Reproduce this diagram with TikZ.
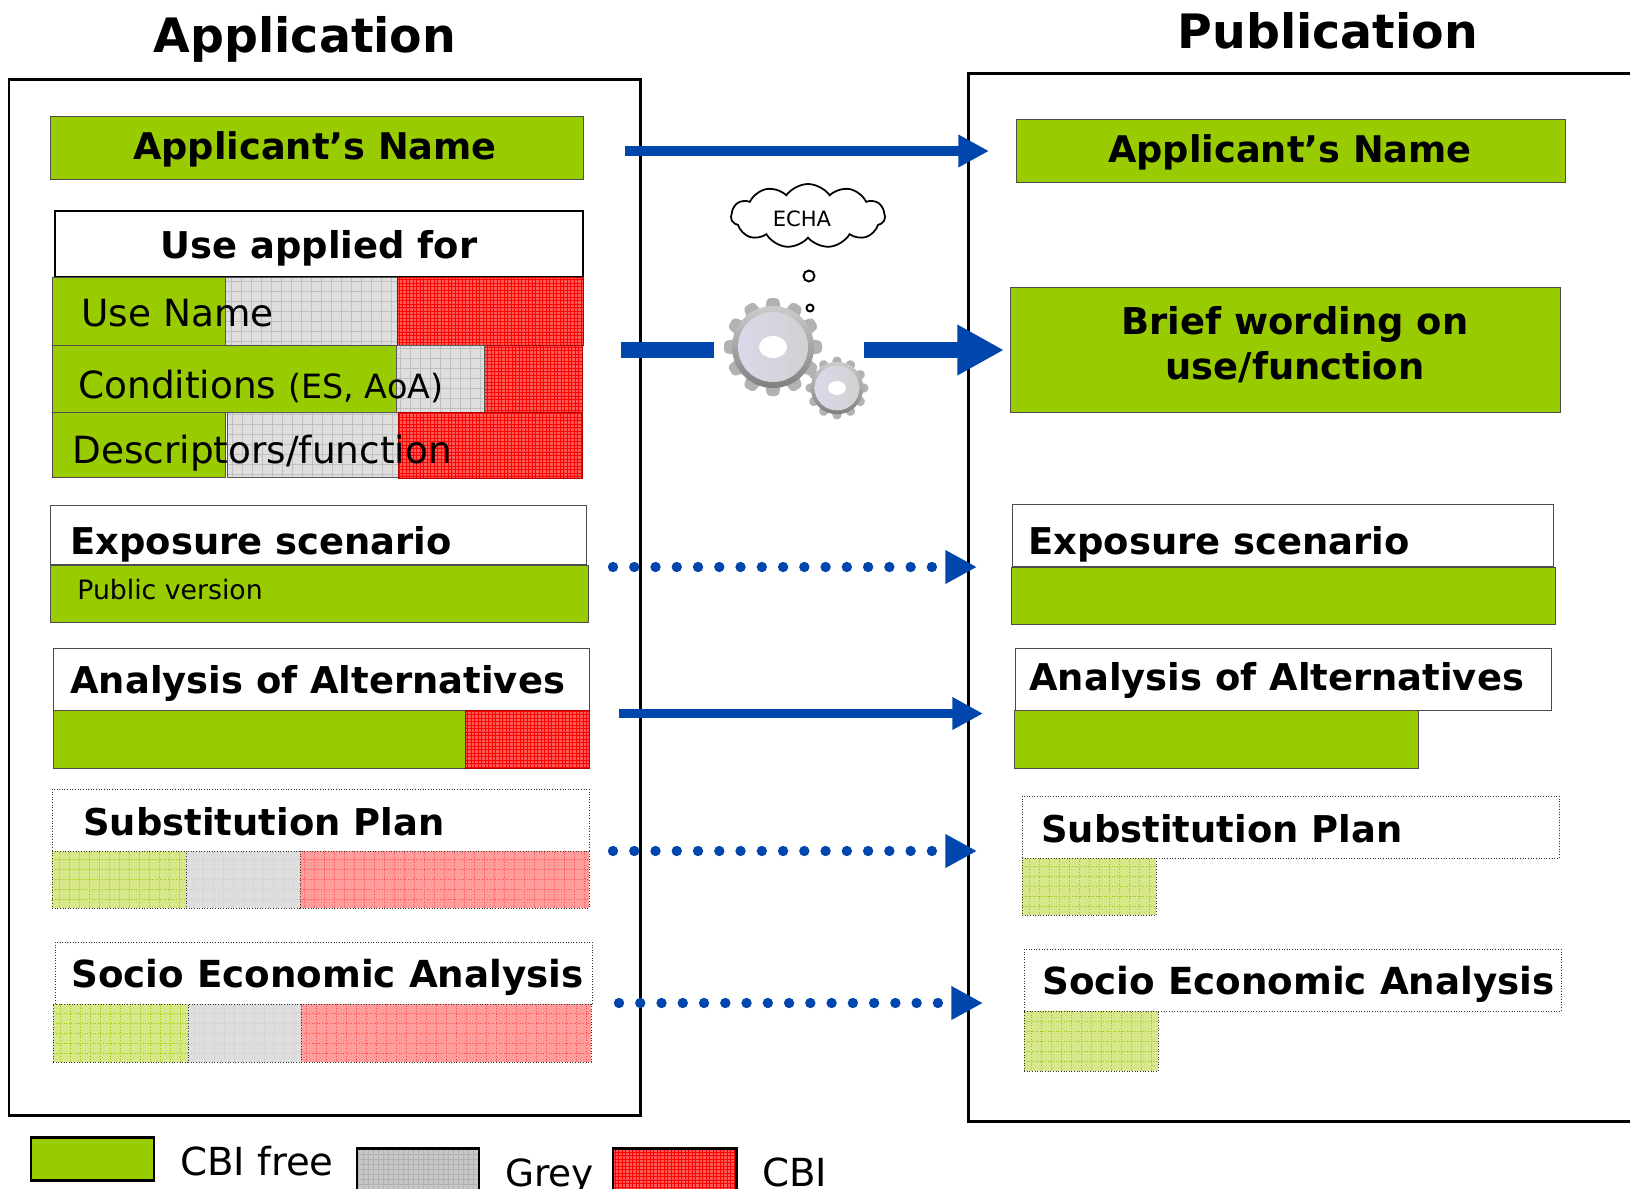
\documentclass[tikz,border=0pt]{standalone}
\usepackage{fontspec}
\setmainfont{DejaVu Sans}
\usepackage{xcolor}
\usepackage{tikz}
\usetikzlibrary{arrows.meta,shapes.symbols}
\definecolor{cbifree}{HTML}{99CC00}
\definecolor{cbifreepale}{HTML}{D6E88A}
\definecolor{cbigrey}{HTML}{DEDEDE}
\definecolor{cbired}{HTML}{FF5A5A}
\definecolor{cbiredpale}{HTML}{FF9C9C}
\definecolor{flowblue}{HTML}{0046AD}

\begin{document}
\begin{tikzpicture}[
        x=0.02cm, y=-0.02cm,
        sized/.style 2 args={
            anchor=north west,
            minimum width=#1*0.02cm,
            minimum height=#2*0.02cm,
            inner sep=0pt,
            outer sep=0pt
        },
        hatched/.style 2 args={
            path picture={
                \draw[#1, line width=0.5pt]
                    (path picture bounding box.south west) grid[step=#2]
                    (path picture bounding box.north east);
            }
        },
        greenbar/.style={draw=black!70, line width=0.4pt, fill=cbifree},
        greybar/.style={draw=black!65, line width=0.5pt, fill=cbigrey, hatched={black!25}{0.2cm}},
        redbar/.style={draw=red!70!black, line width=0.4pt, fill=cbired, hatched={red}{0.07cm}},
        palegreen/.style={draw=black!80, densely dotted, line width=0.5pt, fill=cbifreepale, hatched={cbifree}{0.2cm}},
        palegrey/.style={draw=black!80, densely dotted, line width=0.5pt, fill=cbigrey, hatched={black!20}{0.2cm}},
        palered/.style={draw=black!80, densely dotted, line width=0.5pt, fill=cbiredpale, hatched={red!70}{0.2cm}},
        whitebox/.style={draw=black!70, line width=0.4pt, fill=white},
        dotbox/.style={draw=black!80, densely dotted, line width=0.5pt, fill=white},
        panel/.style={draw=black, line width=1.7pt},
        heading/.style={font=\fontsize{27}{32}\selectfont\bfseries, anchor=base, inner sep=0pt},
        boxtitle/.style={font=\fontsize{21}{25}\selectfont\bfseries, anchor=base west, inner sep=0pt},
        rowtext/.style={font=\fontsize{21.3}{25}\selectfont, anchor=base west, inner sep=0pt},
        solidflow/.style={draw=flowblue, line width=5.4pt, -{Triangle[length=17.5pt,width=17.5pt]}},
        dottedflow/.style={draw=flowblue, line width=5.9pt, line cap=round, dash pattern=on 0pt off 12.1pt,
            -{Triangle[length=18pt,width=18pt]}},
        wideflow/.style={draw=flowblue, line width=9pt},
        gearwheel/.pic={
            \foreach \toothangle in {0,30,...,330}
                \fill[rotate=\toothangle, rounded corners=2pt, black!30] (-9,30) -- (-6,49) -- (6,49) -- (9,30) -- cycle;
            \shade[top color=black!20, bottom color=black!50] (0,0) circle (41);
            \shade[shading angle=135, left color=black!55!blue!15!white, right color=black!18] (0,0) circle (35);
            \fill[white] (0,0) ellipse (14 and 11);
        }
    ]
    \useasboundingbox (0,0) rectangle (1630,1188);

    % headings
    \node[heading] (apphead) at (305,52) {Application};
    \node[heading] (pubhead) at (1328,48) {Publication};

    % panels
    \node[panel, sized={631}{1036}] (apppanel) at (9,79) {};
    \draw[panel] (1640,73) -- (968,73) -- (968,1121) -- (1640,1121);

    % Application: name and use
    \node[greenbar, sized={533}{63}] (appname) at (50,116) {};
    \node[boxtitle, anchor=base, font=\fontsize{20.9}{25}\selectfont\bfseries] (appnametext) at (315,159) {Applicant’s Name};
    \node[draw=black, line width=1.2pt, fill=white, sized={528}{66}] (usebox) at (55,211) {};
    \node[boxtitle, anchor=base] (usetitle) at (319,258) {Use applied for};

    \node[greenbar, sized={173}{68}] (usegreen) at (52,277) {};
    \node[greybar, sized={172}{68}] (usegrey) at (225,277) {};
    \node[redbar, sized={186}{68}] (usered) at (397,277) {};
    \node[greenbar, sized={344}{67}] (condgreen) at (52,345) {};
    \node[redbar, sized={98}{67}] (condred) at (484,345) {};
    \node[greybar, sized={88}{67}] (condgrey) at (396,345) {};
    \node[greenbar, sized={173}{65}] (descgreen) at (52,412) {};
    \node[greybar, sized={171}{65}] (descgrey) at (227,412) {};
    \node[redbar, sized={184}{66}] (descred) at (398,412) {};
    \node[rowtext] (usetext) at (81,326) {Use Name};
    \node[rowtext] (condtext) at (78,398) {Conditions {\fontsize{19}{22}\selectfont (ES, AoA)}};
    \node[rowtext] (desctext) at (72,463) {Descriptors/function};

    % Application: exposure scenario
    \node[whitebox, sized={536}{59}] (appexpo) at (50,505) {};
    \node[greenbar, sized={538}{57}] (appexpobar) at (50,565) {};
    \node[boxtitle] (appexpotext) at (70,554) {Exposure scenario};
    \node[rowtext, font=\fontsize{15.2}{18}\selectfont] (publictext) at (77,599) {Public version};

    % Application: analysis of alternatives
    \node[whitebox, sized={536}{62}] (appaoa) at (53,648) {};
    \node[greenbar, sized={412}{58}] (appaoagreen) at (53,710) {};
    \node[redbar, sized={124}{58}] (appaoared) at (465,710) {};
    \node[boxtitle] (appaoatext) at (70,693) {Analysis of Alternatives};

    % Application: substitution plan
    \node[dotbox, sized={537}{62}] (appsub) at (52,789) {};
    \node[palegreen, sized={134}{57}] (appsubgreen) at (52,851) {};
    \node[palegrey, sized={114}{57}] (appsubgrey) at (186,851) {};
    \node[palered, sized={289}{57}] (appsubred) at (300,851) {};
    \node[boxtitle] (appsubtext) at (83,835) {Substitution Plan};

    % Application: socio economic analysis
    \node[dotbox, sized={537}{62}] (appsea) at (55,942) {};
    \node[palegreen, sized={135}{58}] (appseagreen) at (53,1004) {};
    \node[palegrey, sized={113}{58}] (appseagrey) at (188,1004) {};
    \node[palered, sized={290}{58}] (appseared) at (301,1004) {};
    \node[boxtitle, font=\fontsize{21.2}{25}\selectfont\bfseries] (appseatext) at (71,987) {Socio Economic Analysis};

    % Publication
    \node[greenbar, sized={549}{63}] (pubname) at (1016,119) {};
    \node[boxtitle, anchor=base, font=\fontsize{20.9}{25}\selectfont\bfseries] (pubnametext) at (1290,162) {Applicant’s Name};
    \node[greenbar, sized={550}{125}] (pubbrief) at (1010,287) {};
    \node[boxtitle, anchor=base] (brieftext) at (1295,334) {Brief wording on};
    \node[boxtitle, anchor=base] (brieftextb) at (1295,379) {use/function};

    \node[whitebox, sized={541}{62}] (pubexpo) at (1012,504) {};
    \node[greenbar, sized={544}{57}] (pubexpobar) at (1011,567) {};
    \node[boxtitle] (pubexpotext) at (1028,554) {Exposure scenario};

    \node[whitebox, sized={536}{62}] (pubaoa) at (1015,648) {};
    \node[greenbar, sized={404}{58}] (pubaoagreen) at (1014,710) {};
    \node[boxtitle] (pubaoatext) at (1029,690) {Analysis of Alternatives};

    \node[dotbox, sized={537}{62}] (pubsub) at (1022,796) {};
    \node[palegreen, sized={134}{57}] (pubsubgreen) at (1022,858) {};
    \node[boxtitle] (pubsubtext) at (1041,842) {Substitution Plan};

    \node[dotbox, sized={537}{62}] (pubsea) at (1024,949) {};
    \node[palegreen, sized={134}{60}] (pubseagreen) at (1024,1011) {};
    \node[boxtitle, font=\fontsize{21.2}{25}\selectfont\bfseries] (pubseatext) at (1042,994) {Socio Economic Analysis};

    % ECHA cloud and gears
    \node[cloud, draw=black, line width=1pt, cloud puffs=11, cloud puff arc=110, aspect=2.5,
        minimum width=154*0.02cm, minimum height=64*0.02cm, inner sep=0pt] (echa) at (808,216) {};
    \node[font=\fontsize{12}{14}\selectfont, inner sep=0pt] (echatext) at (802,219) {ECHA};
    \node[draw=black, line width=1.1pt, circle, minimum size=11*0.02cm, inner sep=0pt] (bubblea) at (809,276) {};
    \node[draw=black, line width=1.1pt, circle, minimum size=7*0.02cm, inner sep=0pt] (bubbleb) at (810,308) {};
    \pic at (773,347) {gearwheel};
    \pic[scale=0.64] at (837,388) {gearwheel};

    % arrows
    \coordinate (namefrom) at (625,151);
    \coordinate (nameto) at (989,151);
    \coordinate (stubfrom) at (621,350);
    \coordinate (stubto) at (714,350);
    \coordinate (wordfrom) at (864,350);
    \coordinate (wordto) at (1004,350);
    \coordinate (expofrom) at (613,567);
    \coordinate (expoto) at (977,567);
    \coordinate (aoafrom) at (619,713.5);
    \coordinate (aoato) at (983,713.5);
    \coordinate (subfrom) at (613,851);
    \coordinate (subto) at (977,851);
    \coordinate (seafrom) at (619,1003);
    \coordinate (seato) at (983,1003);
    \draw[solidflow] (namefrom) -- (nameto);
    \draw[wideflow] (stubfrom) -- (stubto);
    \draw[wideflow, -{Triangle[length=26.6pt,width=27pt]}] (wordfrom) -- (wordto);
    \draw[dottedflow] (expofrom) -- (expoto);
    \draw[solidflow] (aoafrom) -- (aoato);
    \draw[dottedflow] (subfrom) -- (subto);
    \draw[dottedflow] (seafrom) -- (seato);

    % legend
    \node[draw=black, line width=1.7pt, fill=cbifree, sized={123}{43}] (keygreen) at (31,1137) {};
    \node[rowtext, font=\fontsize{22}{26}\selectfont] (keygreentext) at (180,1175) {CBI free};
    \node[draw=black, line width=1.7pt, fill=black!22, hatched={black!30}{0.1cm}, sized={122}{43}] (keygrey) at (357,1148) {};
    \node[rowtext] (keygreytext) at (505,1186) {Grey};
    \node[draw=black, line width=1.7pt, fill=cbired, hatched={red}{0.07cm}, sized={123}{43}] (keyred) at (613,1148) {};
    \node[rowtext, font=\fontsize{22}{26}\selectfont] (keyredtext) at (762,1186) {CBI};
\end{tikzpicture}
\end{document}
